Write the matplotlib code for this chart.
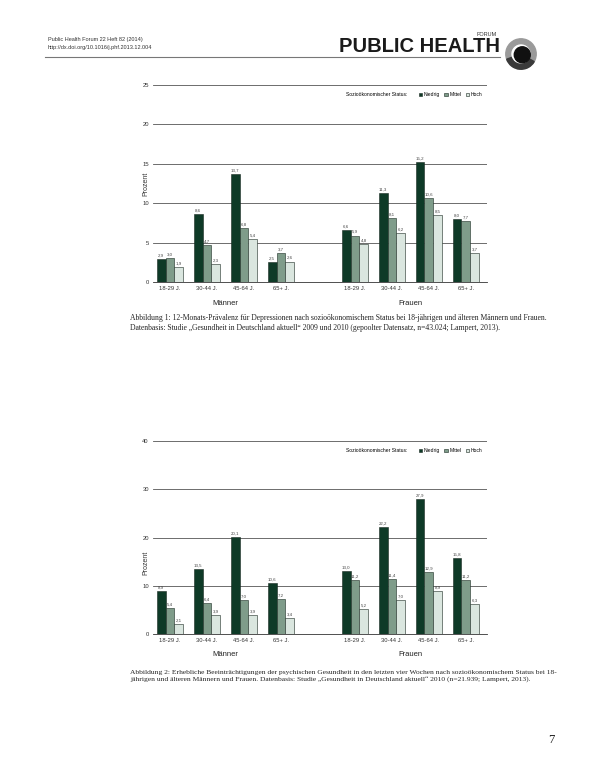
import numpy as np
import matplotlib
matplotlib.use('Agg')
import matplotlib.pyplot as plt
from matplotlib.patches import Circle, Wedge
from matplotlib.offsetbox import HPacker

plt.rcParams['font.family'] = ['Liberation Sans', 'DejaVu Sans']

# Daten
altersgruppen = ['18-29 J.', '30-44 J.', '45-64 J.', '65+ J.']
status = ['Niedrig', 'Mittel', 'Hoch']

# Abbildung 1: 12-Monats-Prävalenz Depressionen (%)
abb1_maenner = {
    'Niedrig': [2.9, 8.6, 13.7, 2.5],
    'Mittel': [3.0, 4.7, 6.8, 3.7],
    'Hoch': [1.9, 2.3, 5.4, 2.6],
}
abb1_frauen = {
    'Niedrig': [6.6, 11.3, 15.2, 8.0],
    'Mittel': [5.9, 8.1, 10.6, 7.7],
    'Hoch': [4.8, 6.2, 8.5, 3.7],
}

# Abbildung 2: Erhebliche Beeinträchtigungen psychische Gesundheit (%)
abb2_maenner = {
    'Niedrig': [8.9, 13.5, 20.1, 10.6],
    'Mittel': [5.4, 6.4, 7.0, 7.2],
    'Hoch': [2.1, 3.9, 3.9, 3.4],
}
abb2_frauen = {
    'Niedrig': [13.0, 22.2, 27.9, 15.8],
    'Mittel': [11.2, 11.4, 12.9, 11.2],
    'Hoch': [5.2, 7.0, 8.9, 6.3],
}

farben = {'Niedrig': '#0e3a27', 'Mittel': '#7f9c8a', 'Hoch': '#dae6df'}

W, H = 597, 765
fig = plt.figure(figsize=(W / 100, H / 100), dpi=100)
fig.patch.set_facecolor('white')


def px_axes(left, top, right, bottom):
    return fig.add_axes([left / W, 1 - bottom / H, (right - left) / W, (bottom - top) / H])


def zeichne(ax, maenner, frauen, ymax, step, label_y):
    pos_m = np.arange(4)
    pos_f = np.arange(5, 9)
    bw = 0.24
    for i, s in enumerate(status):
        off = (i - 1) * bw
        for pos, daten in ((pos_m, maenner), (pos_f, frauen)):
            bars = ax.bar(pos + off, daten[s], width=bw, color=farben[s],
                          edgecolor='#1a2a22', linewidth=0.4, zorder=3,
                          label=s if pos is pos_m else None)
            for b, v in zip(bars, daten[s]):
                ax.text(b.get_x() + b.get_width() / 2, v + ymax * 0.008,
                        f'{v:.1f}'.replace('.', ','), ha='center', va='bottom',
                        fontsize=3.2, color='#444444', zorder=4)
    ax.set_xlim(-0.46, 8.57)
    ax.set_ylim(0, ymax)
    ax.set_yticks(np.arange(0, ymax + 1, step))
    ax.yaxis.grid(True, color='#555555', linewidth=0.6, zorder=0)
    ax.set_axisbelow(True)
    for sp in ['top', 'right', 'left']:
        ax.spines[sp].set_visible(False)
    ax.spines['bottom'].set_color('#333333')
    ax.spines['bottom'].set_linewidth(0.6)
    ax.set_xticks(list(pos_m) + list(pos_f))
    ax.set_xticklabels(altersgruppen + altersgruppen)
    ax.tick_params(axis='both', length=0, labelsize=4.2, colors='#333333', pad=3)
    ax.set_ylabel('Prozent', fontsize=5, color='#333333')
    ax.yaxis.set_label_coords(-0.012, label_y)
    ax.text(1.5, -0.09, 'Männer', transform=ax.get_xaxis_transform(),
            ha='center', va='top', fontsize=5.5, color='#222222')
    ax.text(6.5, -0.09, 'Frauen', transform=ax.get_xaxis_transform(),
            ha='center', va='top', fontsize=5.5, color='#222222')
    leg = ax.legend(loc='upper right', bbox_to_anchor=(1.0, 0.985), ncol=3,
                    fontsize=3.6, frameon=False, handlelength=0.7, handleheight=0.7,
                    columnspacing=0.9, handletextpad=0.3,
                    title='Sozioökonomischer Status:', title_fontsize=3.6)
    # Titel in einer Zeile mit den Einträgen
    box = leg._legend_box
    title_box, handle_box = box.get_children()
    box._children = [HPacker(pad=0, sep=8, align='center',
                             children=[title_box, handle_box])]
    return leg


ax1 = px_axes(153, 85, 487, 282)
zeichne(ax1, abb1_maenner, abb1_frauen, 25, 5, 0.5)
ax2 = px_axes(153, 441, 487, 634)
zeichne(ax2, abb2_maenner, abb2_frauen, 40, 10, 0.37)

# Kopfzeile
fig.text(48 / W, 1 - 40 / H, 'Public Health Forum 22 Heft 82 (2014)', fontsize=4.0,
         color='#333333', va='center')
fig.text(48 / W, 1 - 48 / H, 'http://dx.doi.org/10.1016/j.phf.2013.12.004', fontsize=4.0,
         color='#333333', va='center')
fig.text(497 / W, 1 - 34 / H, 'FORUM', fontsize=4.0, color='#333333', ha='right', va='center')
fig.text(500 / W, 1 - 47 / H, 'PUBLIC HEALTH', fontsize=14.5, fontweight='bold',
         family=['Liberation Sans Narrow', 'Liberation Sans', 'DejaVu Sans'],
         color='#1a1a1a', ha='right', va='center')
fig.add_artist(plt.Line2D([45 / W, 500 / W], [1 - 57 / H, 1 - 57 / H],
                          color='#777777', linewidth=0.8))

# Logo
lax = fig.add_axes([505 / W, 1 - 70 / H, 32 / W, 32 / H])
lax.set_xlim(-1, 1)
lax.set_ylim(-1, 1)
lax.set_aspect('equal')
lax.axis('off')
lax.add_patch(Wedge((0, 0), 0.95, 0, 360, width=0.3, color='#9a9a9a'))
lax.add_patch(Wedge((0, 0), 0.95, 200, 330, width=0.3, color='#3a3a3a'))
lax.add_patch(Circle((0.08, -0.05), 0.5, color='#111111'))

# Bildunterschriften
serif = ['Liberation Serif', 'DejaVu Serif']
cap1 = ('Abbildung 1: 12-Monats-Prävalenz für Depressionen nach sozioökonomischem Status bei 18-jährigen und älteren Männern und Frauen.\n'
        'Datenbasis: Studie „Gesundheit in Deutschland aktuell“ 2009 und 2010 (gepoolter Datensatz, n=43.024; Lampert, 2013).')
cap2 = ('Abbildung 2: Erhebliche Beeinträchtigungen der psychischen Gesundheit in den letzten vier Wochen nach sozioökonomischem Status bei 18-\n'
        'jährigen und älteren Männern und Frauen. Datenbasis: Studie „Gesundheit in Deutschland aktuell“ 2010 (n=21.939; Lampert, 2013).')
fig.text(130 / W, 1 - 314 / H, cap1, family=serif, fontsize=5.5, color='#222222',
         va='top', linespacing=1.35)
fig.text(130 / W, 1 - 670 / H, cap2, family=serif, fontsize=5.4, color='#222222',
         va='top', linespacing=1.35)

fig.text(551 / W, 1 - 740 / H, '7', family=serif, fontsize=9, color='#222222',
         ha='center', va='center')

fig.savefig('out.png', dpi=100, facecolor='white')
